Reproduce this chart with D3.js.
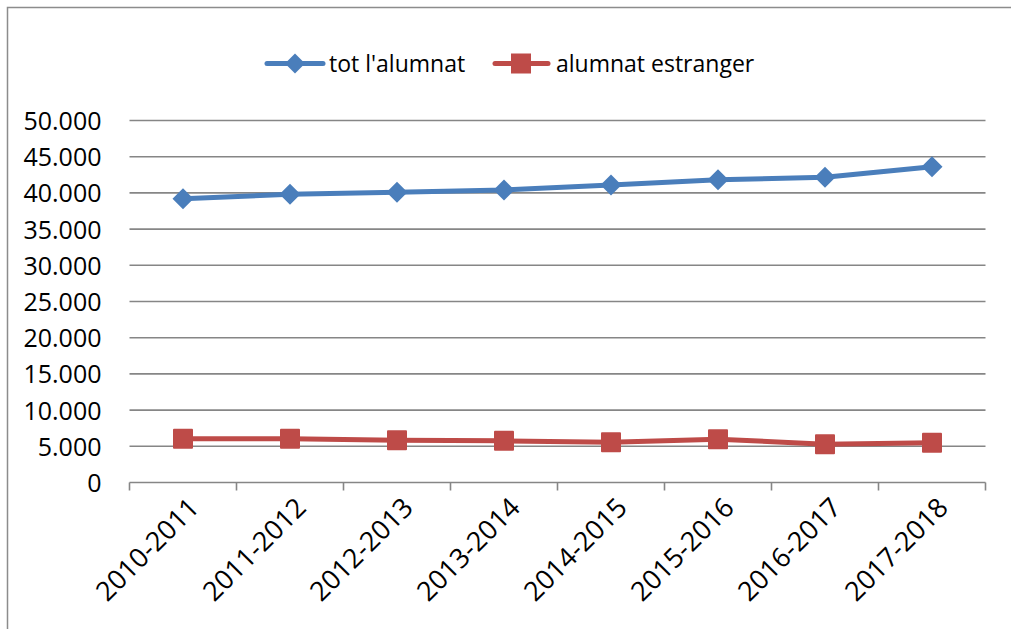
<!DOCTYPE html>
<html><head><meta charset="utf-8">
<script src="https://cdn.jsdelivr.net/npm/d3@7"></script>
<style>html,body{margin:0;padding:0;background:#fff;} svg{display:block;font-family:"Open Sans",sans-serif;}</style>
</head><body>
<svg id="c" width="1011" height="629"></svg>
<script>
const categories = ["2010-2011","2011-2012","2012-2013","2013-2014","2014-2015","2015-2016","2016-2017","2017-2018"];
const totAlumnat = [39200, 39800, 40100, 40400, 41100, 41800, 42150, 43600];
const alumnatEstranger = [6050, 6050, 5850, 5750, 5550, 5980, 5300, 5500];
const yTicks = [0,5000,10000,15000,20000,25000,30000,35000,40000,45000,50000];
const seriesNames = ["tot l'alumnat","alumnat estranger"];
const colors = ["#4A7EBB","#BE4B48"];

const svg = d3.select("#c");
const FS = 23, FY = 25, FX = 27;
svg.append("path").attr("d","M7.5,629 V7.5 H1011").attr("fill","none").attr("stroke","#8c8c8c").attr("stroke-width",1.5);

const x = d3.scaleBand().domain(categories).range([129.5,985.5]);
const y = d3.scaleLinear().domain([0,50000]).range([482.5,120.5]);
const fmt = v => v===0 ? "0" : d3.format(",")(v).replace(/,/g,".");

const yAxis = d3.axisLeft(y).tickValues(yTicks).tickFormat(fmt).tickSize(0).tickPadding(28);
const gy = svg.append("g").attr("transform","translate(129.5,0)").call(yAxis);
gy.select(".domain").remove();
gy.selectAll("text").attr("font-size",FY).attr("fill","#000").attr("font-family","Open Sans").attr("dy","0.36em");
svg.append("g").selectAll("line").data(yTicks.filter(d=>d>0)).join("line")
  .attr("x1",129.5).attr("x2",985.5).attr("y1",d=>y(d)).attr("y2",d=>y(d))
  .attr("stroke","#868686").attr("stroke-width",1.6);

svg.append("line").attr("x1",129.5).attr("x2",985.5).attr("y1",y(0)).attr("y2",y(0)).attr("stroke","#868686").attr("stroke-width",1.6);
const bounds = categories.map(c=>x(c)).concat([x.range()[1]]);
svg.append("g").selectAll("line").data(bounds).join("line")
  .attr("x1",d=>d).attr("x2",d=>d).attr("y1",y(0)).attr("y2",y(0)+8)
  .attr("stroke","#868686").attr("stroke-width",1.6);
svg.append("g").selectAll("text").data(categories).join("text")
  .attr("transform",d=>`translate(${x(d)+x.bandwidth()/2+4},${y(0)+13}) rotate(-45)`)
  .attr("text-anchor","end").attr("dy","0.72em").attr("font-size",FX).attr("fill","#000")
  .text(d=>d);

const cx = d => x(d)+x.bandwidth()/2;
const line = d3.line().x(d=>cx(d.c)).y(d=>y(d.v));

const s1 = categories.map((c,i)=>({c,v:totAlumnat[i]}));
const s2 = categories.map((c,i)=>({c,v:alumnatEstranger[i]}));

svg.append("path").datum(s1).attr("d",line).attr("fill","none").attr("stroke",colors[0]).attr("stroke-width",5).attr("stroke-linejoin","round");
svg.append("g").selectAll("path").data(s1).join("path")
  .attr("d",d=>{const X=cx(d.c),Y=y(d.v),r=10.5;return `M${X},${Y-r}L${X+r},${Y}L${X},${Y+r}L${X-r},${Y}Z`;})
  .attr("fill",colors[0]);

svg.append("path").datum(s2).attr("d",line).attr("fill","none").attr("stroke",colors[1]).attr("stroke-width",5).attr("stroke-linejoin","round");
svg.append("g").selectAll("rect").data(s2).join("rect")
  .attr("x",d=>cx(d.c)-10).attr("y",d=>y(d.v)-10).attr("width",20).attr("height",20).attr("rx",1)
  .attr("fill",colors[1]);

const lg = svg.append("g");
const ly = 63.5;
lg.append("line").attr("x1",267).attr("x2",323).attr("y1",ly).attr("y2",ly).attr("stroke",colors[0]).attr("stroke-width",5).attr("stroke-linecap","round");
lg.append("path").attr("d",`M295,${ly-10}L305,${ly}L295,${ly+10}L285,${ly}Z`).attr("fill",colors[0]);
lg.append("text").attr("x",329).attr("y",ly).attr("dy","0.36em").attr("font-size",FS).text(seriesNames[0]);
lg.append("line").attr("x1",495).attr("x2",548).attr("y1",ly).attr("y2",ly).attr("stroke",colors[1]).attr("stroke-width",5).attr("stroke-linecap","round");
lg.append("rect").attr("x",511).attr("y",ly-10).attr("width",20).attr("height",20).attr("fill",colors[1]);
lg.append("text").attr("x",556).attr("y",ly).attr("dy","0.36em").attr("font-size",FS).text(seriesNames[1]);
</script>
</body></html>
